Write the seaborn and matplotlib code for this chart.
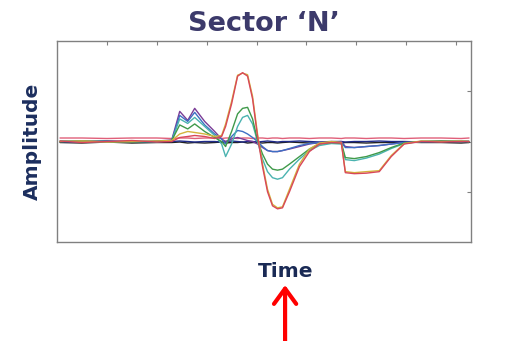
import pandas as pd
import matplotlib
matplotlib.use("Agg")
import matplotlib.pyplot as plt
import seaborn as sns

# sample times (axis units, ticks at 1..8)
time = [0.06, 0.5, 1.0, 1.5, 2.0, 2.3, 2.46, 2.62, 2.76, 2.96,
        3.16, 3.3, 3.38, 3.5, 3.62, 3.72, 3.82, 3.92, 4.02, 4.12,
        4.22, 4.32, 4.42, 4.52, 4.66, 4.86, 5.06, 5.26, 5.5, 5.7,
        5.78, 5.96, 6.2, 6.46, 6.7, 6.96, 7.3, 7.7, 8.1, 8.26]

# one trace per sensor
black = [-0.02, -0.03, -0.01, -0.03, -0.02, -0.02, -0.01, -0.03, -0.02, -0.03,
         -0.02, -0.01, -0.03, -0.02, -0.02, -0.01, -0.03, -0.02, -0.02, -0.03,
         -0.02, -0.02, -0.03, -0.02, -0.01, -0.02, -0.03, -0.02, -0.02, -0.03,
         -0.02, -0.02, -0.03, -0.02, -0.02, -0.01, -0.02, -0.02, -0.03, -0.02]
navy = [0.0, -0.01, 0.01, -0.01, 0.0, 0.0, 0.01, 0.0, -0.01, 0.0,
        0.0, -0.01, 0.0, 0.01, 0.0, -0.01, 0.0, 0.0, -0.01, 0.0,
        0.01, 0.0, -0.01, 0.0, 0.0, 0.01, 0.0, -0.01, 0.0, 0.0,
        -0.01, 0.0, 0.0, 0.01, 0.0, 0.0, -0.01, 0.0, 0.0, 0.0]
pink = [0.07, 0.07, 0.06, 0.07, 0.07, 0.06, 0.07, 0.07, 0.06, 0.07,
        0.07, 0.06, 0.07, 0.07, 0.06, 0.07, 0.07, 0.06, 0.07, 0.07,
        0.06, 0.07, 0.07, 0.06, 0.07, 0.07, 0.06, 0.07, 0.07, 0.06,
        0.07, 0.07, 0.06, 0.07, 0.07, 0.06, 0.07, 0.07, 0.06, 0.07]
purple = [0.0, 0.01, 0.0, -0.01, 0.01, 0.03, 0.6, 0.42, 0.66, 0.4,
          0.2, 0.05, 0.0, 0.05, 0.08, 0.05, 0.02, 0.0, -0.05, -0.12,
          -0.18, -0.2, -0.2, -0.18, -0.15, -0.1, -0.05, -0.02, -0.01, 0.0,
          -0.1, -0.12, -0.1, -0.08, -0.05, -0.02, 0.0, 0.01, 0.0, 0.0]
blue = [0.0, -0.01, 0.01, 0.0, -0.01, 0.02, 0.52, 0.4, 0.58, 0.33,
        0.15, 0.05, -0.05, 0.1, 0.22, 0.2, 0.15, 0.08, 0.0, -0.1,
        -0.18, -0.2, -0.2, -0.18, -0.14, -0.08, -0.04, -0.02, -0.01, -0.02,
        -0.12, -0.12, -0.1, -0.08, -0.05, -0.02, 0.0, 0.0, 0.0, 0.0]
teal = [0.01, 0.0, -0.01, 0.01, 0.0, 0.01, 0.45, 0.36, 0.48, 0.3,
        0.12, -0.05, -0.3, -0.05, 0.3, 0.48, 0.52, 0.35, 0.0, -0.35,
        -0.6, -0.72, -0.75, -0.72, -0.55, -0.35, -0.18, -0.08, -0.04, -0.05,
        -0.36, -0.38, -0.33, -0.25, -0.14, -0.04, 0.0, 0.0, 0.01, 0.0]
green = [0.0, 0.01, 0.0, -0.01, 0.0, 0.02, 0.33, 0.25, 0.35, 0.2,
         0.08, 0.0, -0.1, 0.2, 0.55, 0.66, 0.68, 0.45, 0.02, -0.25,
         -0.45, -0.55, -0.57, -0.55, -0.45, -0.3, -0.15, -0.05, -0.02, -0.03,
         -0.32, -0.34, -0.3, -0.22, -0.12, -0.03, 0.0, 0.01, 0.0, 0.0]
yellow = [0.0, 0.01, -0.01, 0.0, 0.01, 0.02, 0.15, 0.2, 0.18, 0.15,
          0.1, 0.12, 0.35, 0.8, 1.32, 1.36, 1.33, 0.9, 0.15, -0.45,
          -0.95, -1.25, -1.32, -1.3, -0.95, -0.45, -0.15, -0.03, 0.0, -0.02,
          -0.6, -0.62, -0.6, -0.58, -0.28, -0.04, 0.01, 0.0, 0.01, 0.0]
red = [0.01, -0.02, 0.0, 0.02, -0.01, 0.0, 0.08, 0.1, 0.12, 0.1,
       0.06, 0.1, 0.3, 0.75, 1.3, 1.37, 1.3, 0.85, 0.1, -0.5,
       -1.0, -1.28, -1.34, -1.32, -1.0, -0.5, -0.2, -0.05, -0.02, -0.03,
       -0.62, -0.64, -0.63, -0.6, -0.3, -0.05, 0.0, -0.01, 0.0, 0.0]

traces = {"black": black, "navy": navy, "pink": pink, "purple": purple,
          "blue": blue, "teal": teal, "green": green, "yellow": yellow, "red": red}
colors = {"black": "#222222", "navy": "#1f2a8a", "pink": "#e0607a",
          "purple": "#7a3c96", "blue": "#3d6fc4", "teal": "#4ab3b0",
          "green": "#3f9a4a", "yellow": "#d4b43c", "red": "#d9475a"}

rows = []
for name, vals in traces.items():
    for t, v in zip(time, vals):
        rows.append({"time": t, "amplitude": v, "sensor": name})
df = pd.DataFrame(rows)

sns.set_style("white")
fig = plt.figure(figsize=(5.10, 3.41), dpi=100)
ax = fig.add_axes([0.1118, 0.2903, 0.8118, 0.5894])

sns.lineplot(data=df, x="time", y="amplitude", hue="sensor", palette=colors,
             estimator=None, sort=False, legend=False, linewidth=1.0, ax=ax)

ax.set_xlim(0, 8.3)
ax.set_ylim(-2, 2)
ax.set_xticks(range(1, 9))
ax.set_yticks([-1, 0, 1])
ax.tick_params(direction="in", length=3, width=0.8, color="#808080",
               top=True, right=True, labelbottom=False, labelleft=False)
for s in ax.spines.values():
    s.set_color("#808080")
    s.set_linewidth(1.0)
ax.set_xlabel("")
ax.set_ylabel("")

ax.set_title("Sector \u2018N\u2019", fontsize=19.5, fontweight="bold",
             color="#3c3a6b", pad=7, family="DejaVu Sans")
ax.text(0.551, -0.174, "Time", transform=ax.transAxes, ha="center",
        va="baseline", fontsize=14.5, fontweight="bold", color="#1a2a55")
ax.text(-0.060, 0.5, "Amplitude", transform=ax.transAxes, ha="center",
        va="center", rotation=90, fontsize=14.5, fontweight="bold",
        color="#1c2e5e")

# red arrow pointing at the time label
ax.annotate("", xy=(0.559, 0.164), xytext=(0.559, 0.0),
            xycoords="figure fraction", textcoords="figure fraction",
            arrowprops=dict(arrowstyle="->,head_length=0.55,head_width=0.4",
                            color="#ff0000", lw=3, mutation_scale=20,
                            shrinkA=0, shrinkB=0))

fig.savefig("out.png", dpi=100)
